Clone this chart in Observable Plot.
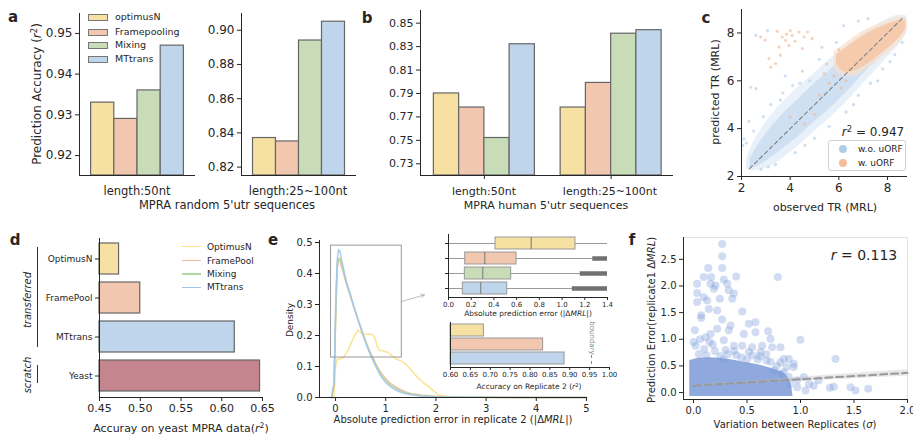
<!DOCTYPE html>
<html><head><meta charset="utf-8">
<script src="https://cdn.jsdelivr.net/npm/d3@7"></script>
<script src="https://cdn.jsdelivr.net/npm/@observablehq/plot@0.6"></script>
<style>
body{margin:0;background:#fff;}
#fig{position:relative;width:913px;height:437px;overflow:hidden;font-family:"DejaVu Sans",sans-serif;color:#262626;background:#fff;}
.t{position:absolute;white-space:nowrap;line-height:1;}
sup{font-size:0.7em;vertical-align:0.45em;line-height:0;}
.sw{position:absolute;}
</style></head><body><div id="fig"></div>
<script>
// ---------- data ----------
const models = ["optimusN","Framepooling","Mixing","MTtrans"];
const modelColors = ["#f6e0a2","#f1c8af","#c8ddb7","#bfd5eb"];
const aGroups = ["length:50nt","length:25~100nt"];
const a50 = [0.933,0.929,0.936,0.947];
const a25 = [0.837,0.835,0.894,0.905];
const aTicks50 = [0.92,0.93,0.94,0.95];
const aTicks25 = [0.82,0.84,0.86,0.88,0.90];
const bGroups = ["length:50nt","length:25~100nt"];
const b50 = [0.790,0.778,0.752,0.832];
const b25 = [0.778,0.799,0.841,0.844];
const bTicks = [0.73,0.75,0.77,0.79,0.81,0.83,0.85];

// panel c : envelopes of the dense clouds + scattered points
const cBlueFringeX = [2.2,2.4,3.0,3.5,4.0,4.5,5.0,5.5,6.0,6.5,7.0,7.5,8.0,8.5,8.8];
const cBlueFringeLo = [2.3,2.2,2.3,2.6,3.0,3.4,3.9,4.3,4.8,5.3,5.9,6.4,7.0,7.5,8.0];
const cBlueFringeHi = [2.7,3.3,4.3,4.9,5.4,5.9,6.3,6.8,7.2,7.6,8.0,8.3,8.6,8.8,8.7];
const cBlueCoreX = [2.35,2.6,3.0,3.5,4.0,4.5,5.0,5.5,6.0,6.5,7.0,7.5,8.0,8.5,8.75];
const cBlueCoreLo = [2.35,2.4,2.6,3.0,3.4,3.8,4.3,4.7,5.2,5.7,6.3,6.8,7.3,7.8,8.2];
const cBlueCoreHi = [2.75,3.2,3.8,4.4,4.9,5.4,5.9,6.3,6.8,7.2,7.6,8.0,8.3,8.6,8.6];
const cOrangeFringeX = [5.8,6.2,6.7,7.2,7.7,8.2,8.6,8.8];
const cOrangeFringeLo = [6.5,6.1,6.2,6.5,6.9,7.3,7.7,8.1];
const cOrangeFringeHi = [7.2,7.5,7.9,8.2,8.4,8.6,8.7,8.6];
const cOrangeCoreX = [5.9,6.2,6.7,7.2,7.7,8.2,8.6,8.75];
const cOrangeCoreLo = [6.7,6.3,6.4,6.7,7.1,7.5,7.9,8.2];
const cOrangeCoreHi = [7.1,7.3,7.7,8.0,8.25,8.45,8.55,8.5];
const cBluePtX = [2.59,3.07,2.38,2.59,2.1,2.05,2.2,2.5,2.9,3.2,3.7,2.3,4.1,3.8,4.5,5.2,5.3,6.2,6.8,7.2,4.2,5.0,5.6,6.3,6.8,7.3,7.8,8.3,3.4,4.6,2.8,3.1,5.9,4.8,6.6,7.6,8.1,8.6,3.6,4.4];
const cBluePtY = [7.9,8.1,5.73,5.67,3.57,3.3,3.4,3.9,4.5,5.0,5.5,4.3,5.8,6.2,6.4,6.9,7.4,8.3,8.5,8.6,3.0,3.6,4.1,4.7,5.4,5.9,6.5,7.1,2.5,3.3,2.3,2.4,7.6,6.0,5.0,6.0,6.8,7.6,5.2,5.9];
const cOrangePtX = [3.47,3.67,3.81,4.08,4.36,4.57,4.71,3.95,3.54,3.13,3.4,3.2,4.9,2.79,2.97,3.6,4.5,4.2,3.85,4.0,5.2,5.0,4.6,5.6,6.1,6.3,5.8,4.0,5.4,6.0,5.5];
const cOrangePtY = [8.07,7.83,7.69,7.9,8.04,7.83,8.04,7.48,7.41,6.93,6.72,6.57,7.76,7.83,7.7,7.07,7.35,7.65,7.95,8.1,5.4,4.6,4.2,5.9,5.7,6.0,6.2,4.5,6.3,7.3,6.7];
const cDiag = [2.33,8.6];
const cTicks = [2,4,6,8];

// panel d
const dCats = ["OptimusN","FramePool","MTtrans","Yeast"];
const dValues = [0.474,0.500,0.616,0.647];
const dColors = ["#f6e0a2","#f1c8af","#bfd5eb","#c4858f"];
const dTicks = [0.45,0.50,0.55,0.60,0.65];

// panel e : density curves
const eNames = ["OptimusN","FramePool","Mixing","MTtrans"];
const eColors = ["#fcdf86","#f5b895","#aed7a0","#a3c7ec"];
const eGridX = [-0.08,-0.03,0,0.03,0.06,0.09,0.12,0.16,0.2,0.25,0.3,0.35,0.4,0.45,0.5,0.55,0.6,0.65,0.7,0.75,0.8,0.85,0.9,0.95,1.0,1.1,1.2,1.3,1.4,1.5,1.7,2.0,2.5,3.0,4.0,5.0];
const eFramePoolY = [0,0.04,0.24,0.41,0.445,0.44,0.42,0.4,0.375,0.35,0.325,0.3,0.275,0.25,0.228,0.205,0.183,0.162,0.143,0.127,0.11,0.095,0.082,0.07,0.06,0.045,0.034,0.025,0.018,0.013,0.008,0.004,0.002,0.001,0,0];
const eMixingY = [0,0.045,0.25,0.42,0.45,0.448,0.43,0.405,0.38,0.352,0.328,0.3,0.276,0.25,0.226,0.202,0.18,0.158,0.139,0.122,0.105,0.09,0.076,0.064,0.054,0.04,0.029,0.021,0.015,0.011,0.006,0.003,0.0015,0.0007,0,0];
const eMTtransY = [0,0.05,0.28,0.44,0.478,0.47,0.445,0.415,0.385,0.355,0.33,0.3,0.275,0.25,0.225,0.2,0.177,0.155,0.135,0.118,0.1,0.085,0.07,0.058,0.048,0.034,0.024,0.017,0.012,0.009,0.005,0.002,0.001,0.0005,0,0];
const eOptimusX = [-0.1,-0.03,0,0.03,0.1,0.15,0.2,0.26,0.32,0.38,0.45,0.5,0.56,0.65,0.73,0.78,0.83,0.88,0.95,1.05,1.12,1.2,1.3,1.4,1.47,1.55,1.65,1.75,1.85,1.95,2.05,2.2,2.5,3.0,5.0];
const eOptimusY = [0,0,0.1,0.123,0.125,0.128,0.14,0.155,0.18,0.2,0.218,0.21,0.203,0.205,0.203,0.195,0.165,0.152,0.15,0.145,0.135,0.125,0.118,0.108,0.095,0.08,0.062,0.048,0.035,0.022,0.008,0.003,0.001,0,0];
const eTicksX = [0,1,2,3,4,5];
const eTicksY = [0,0.1,0.2,0.3,0.4,0.5];
const eZoomBox = {x1:-0.09, x2:1.32, y1:0.129, y2:0.49};
const eZoomArrow = {x1:1.32, y1:0.31, x2:1.77, y2:0.331};
// inset boxplot
const boxQ1 = [0.414,0.147,0.144,0.126];
const boxMed = [0.728,0.32,0.302,0.284];
const boxQ3 = [1.118,0.599,0.552,0.517];
const boxHi = [1.45,1.27,1.16,1.09];
const boxOutStart = [null,1.27,1.16,1.09];
const boxTicks = [0,0.2,0.4,0.6,0.8,1.0,1.2,1.4];
// inset bars
const replModels = ["OptimusN","FramePool","MTtrans"];
const replValues = [0.684,0.833,0.887];
const replColors = ["#f6e0a2","#f1c8af","#bfd5eb"];
const replTicks = [0.60,0.65,0.70,0.75,0.80,0.85,0.90,0.95,1.00];

// panel f
const fDenseX = [-0.035,0.05,0.15,0.25,0.35,0.45,0.55,0.65,0.75,0.82,0.87,0.9,0.92,0.93];
const fDenseTop = [0.6,0.65,0.66,0.64,0.62,0.58,0.54,0.5,0.44,0.4,0.32,0.24,0.1,-0.075];
const fPtX = [0.268,0.268,0.268,0.137,0.096,0.034,0.165,0.159,0.206,0.19,0.283,0.315,0.33,0.377,0.399,0.788,0.034,0.034,0.096,0.128,0.143,0.221,0.268,0.362,0.246,0.455,0.072,0.072,0.012,0.112,0.159,0.221,0.33,0.346,0.517,0.579,0.47,0.579,0.698,0.72,1.0,1.327,0.283,0.377,0.455,0.548,0.642,0.735,0.813,0.844,0.891,0.937,0.937,0.869,0.813,0.682,0.626,0.517,0.969,1.047,1.078,1.124,1.171,1.274,1.311,1.467,1.514,1.633,1.031,0.969,0.90,0.891,0.844,0.05,0.12,0.2,0.25,0.32,0.4,0.45,0.55,0.6,0.68,0.02,0.1,0.18,0.3,0.28,0.5,0.72,0.78,0.75,0.82,0.0,0.06,0.15,0.38,0.62];
const fPtY = [2.79,2.56,2.34,2.34,2.17,2.04,2.17,2.04,2.01,1.95,2.12,2.04,1.92,1.86,2.18,2.17,1.87,1.70,1.79,1.73,1.57,1.54,1.37,1.76,1.76,1.52,1.45,1.40,1.17,1.04,1.10,1.20,1.17,1.26,1.29,1.32,1.10,1.13,1.15,1.01,0.99,0.63,0.98,0.88,0.88,0.85,0.88,0.85,0.85,0.63,0.63,0.54,0.48,0.48,0.57,0.6,0.76,0.76,0.23,0.04,0.16,0.13,0.23,0.09,0.11,0.10,0.04,0.07,0.29,0.1,0.16,0.29,0.38,0.72,0.7,0.78,0.68,0.72,0.7,0.66,0.7,0.62,0.72,0.88,0.82,0.9,0.8,0.62,0.62,0.58,0.5,0.42,0.35,0.95,1.0,0.95,0.78,0.68];
const fRegX = [0,2.0];
const fRegY = [0.13,0.37];
const fRegLo = [0.11,0.31];
const fRegHi = [0.15,0.43];
const fTicksX = [0,0.5,1.0,1.5,2.0];
const fTicksY = [0,0.5,1.0,1.5,2.0,2.5];

// ---------- helpers ----------
const fig = document.getElementById("fig");
const INK = "#262626";
function sty(fs){return {background:"transparent",overflow:"visible",maxWidth:"none",fontFamily:"DejaVu Sans, sans-serif",fontSize:fs+"px",color:INK};}
function place(node,left,top){node.style.position="absolute";node.style.left=left+"px";node.style.top=top+"px";fig.appendChild(node);}
function label(html,x,y,fs,o={}){const d=document.createElement("div");d.className="t";d.innerHTML=html;d.style.left=x+"px";d.style.top=y+"px";d.style.fontSize=fs+"px";
  d.style.transform=(o.left?"translate(0,-50%)":"translate(-50%,-50%)")+(o.rot?` rotate(${o.rot}deg)`:"");if(o.italic)d.style.fontStyle="italic";if(o.bold)d.style.fontWeight="bold";if(o.color)d.style.color=o.color;fig.appendChild(d);}
function box(left,top,w,h,css){const d=document.createElement("div");d.className="sw";d.style.left=left+"px";d.style.top=top+"px";d.style.width=w+"px";d.style.height=h+"px";d.style.cssText+=css;fig.appendChild(d);}
const zip = (xs,ys)=>xs.map((x,i)=>({x,y:ys[i]}));
const band = (xs,lo,hi)=>xs.map((x,i)=>({x,lo:lo[i],hi:hi[i]}));

// ---------- panel a ----------
function panelA(values,domain,ticks,width,ml,mr){
  const rows = models.map((m,i)=>({i,value:values[i],color:modelColors[i]}));
  return Plot.plot({width,height:215,marginLeft:ml,marginRight:mr,marginTop:13,marginBottom:40,style:sty(12),
    x:{domain:[0,5],axis:null},y:{domain},color:{type:"identity"},
    marks:[
      Plot.rect(rows,{x1:d=>d.i+0.5,x2:d=>d.i+1.5,y1:domain[0],y2:"value",fill:"color",stroke:"#666",strokeWidth:1.2}),
      Plot.axisY({ticks,tickFormat:".2f",tickSize:4,tickPadding:3,label:null}),
      Plot.ruleX([0],{stroke:INK}),Plot.ruleY([domain[0]],{stroke:INK})
    ]});
}
place(panelA(a50,[0.9151,0.9549],aTicks50,170,49,5),30,0);
place(panelA(a25,[0.8151,0.9098],aTicks25,160,41,4),200,0);

// ---------- panel b ----------
{
  const off = [0.53,5.55];
  const rows = [];
  [b50,b25].forEach((vals,g)=>vals.forEach((v,i)=>rows.push({x1:off[g]+i,x2:off[g]+i+1,value:v,color:modelColors[i]})));
  const dom=[0.72,0.8608];
  place(Plot.plot({width:315,height:215,marginLeft:55,marginRight:7,marginTop:10,marginBottom:40,style:sty(11),
    x:{domain:[0,10.02]},y:{domain:dom},color:{type:"identity"},
    marks:[
      Plot.rect(rows,{x1:"x1",x2:"x2",y1:dom[0],y2:"value",fill:"color",stroke:"#666",strokeWidth:1.2}),
      Plot.axisY({ticks:bTicks,tickFormat:".2f",tickSize:4,tickPadding:3,label:null}),
      Plot.axisX({ticks:off.map(o=>o+2),tickFormat:()=>"",tickSize:4,label:null}),
      Plot.ruleX([0],{stroke:INK}),Plot.ruleY([dom[0]],{stroke:INK})
    ]}),365,0);
}

// ---------- panel c ----------
place(Plot.plot({width:223,height:215,marginLeft:51,marginRight:6,marginTop:9,marginBottom:39,style:sty(12),
  x:{domain:[2,8.82]},y:{domain:[2,8.98]},
  marks:[
    Plot.areaY(band(cBlueFringeX,cBlueFringeLo,cBlueFringeHi),{x:"x",y1:"lo",y2:"hi",fill:"#e8f0f9",curve:"basis"}),
    Plot.areaY(band(cBlueCoreX,cBlueCoreLo,cBlueCoreHi),{x:"x",y1:"lo",y2:"hi",fill:"#cfe0f3",curve:"basis"}),
    Plot.dot(zip(cBluePtX,cBluePtY),{x:"x",y:"y",r:1.6,fill:"#bcd4ed",fillOpacity:0.75}),
    Plot.areaY(band(cOrangeFringeX,cOrangeFringeLo,cOrangeFringeHi),{x:"x",y1:"lo",y2:"hi",fill:"#f9dfcc",fillOpacity:0.7,curve:"basis"}),
    Plot.areaY(band(cOrangeCoreX,cOrangeCoreLo,cOrangeCoreHi),{x:"x",y1:"lo",y2:"hi",fill:"#f6cbad",curve:"basis"}),
    Plot.dot(zip(cOrangePtX,cOrangePtY),{x:"x",y:"y",r:1.6,fill:"#f2b68f",fillOpacity:0.6}),
    Plot.line(zip(cDiag,cDiag),{x:"x",y:"y",stroke:"#888",strokeWidth:1.2,strokeDasharray:"4,3"}),
    Plot.axisX({ticks:cTicks,tickFormat:"d",tickSize:4,tickPadding:3,label:null}),
    Plot.axisY({ticks:cTicks,tickFormat:"d",tickSize:4,tickPadding:3,label:null}),
    Plot.ruleX([2],{stroke:INK}),Plot.ruleY([2],{stroke:INK})
  ]}),690,0);

// ---------- panel d ----------
place(Plot.plot({width:275,height:207,marginLeft:99,marginRight:13,marginTop:8,marginBottom:40,style:sty(11),
  x:{domain:[0.45,0.65]},y:{domain:dCats,paddingInner:0.2,paddingOuter:0.1},color:{type:"identity"},
  marks:[
    Plot.barX(dCats.map((c,i)=>({c,v:dValues[i],color:dColors[i]})),{y:"c",x1:0.45,x2:"v",fill:"color",stroke:"#666",strokeWidth:1.2}),
    Plot.axisY({tickSize:4,tickPadding:3,fontSize:9,label:null}),
    Plot.axisX({ticks:dTicks,tickFormat:".2f",tickSize:4,tickPadding:3,label:null}),
    Plot.ruleX([0.45],{stroke:INK}),
    Plot.frame({anchor:"bottom",stroke:INK})
  ]}),0,230);

// ---------- panel e ----------
{
  const curves = [
    eOptimusX.map((x,i)=>({x,y:eOptimusY[i]})),
    eGridX.map((x,i)=>({x,y:eFramePoolY[i]})),
    eGridX.map((x,i)=>({x,y:eMixingY[i]})),
    eGridX.map((x,i)=>({x,y:eMTtransY[i]}))
  ];
  place(Plot.plot({width:320,height:207,marginLeft:44,marginRight:8,marginTop:10,marginBottom:40,style:sty(10),
    x:{domain:[-0.32,5.02]},y:{domain:[0,0.5065]},
    marks:[
      ...curves.map((c,k)=>Plot.line(c,{x:"x",y:"y",stroke:eColors[k],strokeWidth:1.5,strokeOpacity:0.9})),
      Plot.rect([eZoomBox],{x1:"x1",x2:"x2",y1:"y1",y2:"y2",fill:"none",stroke:"#999",strokeWidth:1}),
      Plot.arrow([eZoomArrow],{x1:"x1",y1:"y1",x2:"x2",y2:"y2",stroke:"#aaa",strokeWidth:0.8,headLength:7}),
      Plot.axisY({ticks:eTicksY,tickFormat:".1f",tickSize:4,tickPadding:3,label:null}),
      Plot.axisX({ticks:eTicksX,tickFormat:"d",tickSize:4,tickPadding:3,label:null}),
      Plot.ruleX([-0.32],{stroke:INK}),Plot.ruleY([0],{stroke:INK})
    ]}),275,230);
  // inset boxplot
  const rows = eNames.map((m,i)=>({m,q1:boxQ1[i],med:boxMed[i],q3:boxQ3[i],hi:boxHi[i],out:boxOutStart[i],color:modelColors[i]}));
  place(Plot.plot({width:185,height:95,marginLeft:18,marginRight:8,marginTop:6,marginBottom:26,style:sty(7),
    x:{domain:[0,1.4]},y:{domain:eNames,paddingInner:0.23,paddingOuter:0.14},color:{type:"identity"},
    marks:[
      Plot.ruleY(rows,{y:"m",x1:0,x2:"hi",stroke:"#999",clip:true}),
      Plot.ruleY(rows.filter(d=>d.out!=null),{y:"m",x1:"out",x2:1.45,stroke:"#707070",strokeWidth:4.5,clip:true}),
      Plot.barX(rows,{y:"m",x1:"q1",x2:"q3",fill:"color",stroke:"#999"}),
      Plot.tickX(rows,{y:"m",x:"med",stroke:"#777"}),
      Plot.axisX({ticks:boxTicks,tickFormat:".1f",tickSize:3,tickPadding:2,label:null}),
      Plot.axisY({tickSize:3,tickFormat:()=>"",label:null}),
      Plot.frame({anchor:"left",stroke:INK}),Plot.frame({anchor:"bottom",stroke:INK})
    ]}),430,228);
  // inset bars
  const rr = replModels.map((m,i)=>({m,v:replValues[i],color:replColors[i]}));
  place(Plot.plot({width:185,height:75,marginLeft:20,marginRight:6,marginTop:4,marginBottom:26,style:sty(7),
    x:{domain:[0.6,1.0]},y:{domain:replModels,paddingInner:0.14,paddingOuter:0.14,axis:null},color:{type:"identity"},
    marks:[
      Plot.barX(rr,{y:"m",x1:0.6,x2:"v",fill:"color",stroke:"#999"}),
      Plot.axisX({ticks:replTicks,tickFormat:".2f",tickSize:3,tickPadding:2,label:null}),
      Plot.frame({anchor:"left",stroke:INK}),Plot.frame({anchor:"bottom",stroke:INK})
    ]}),430,318);
}

// ---------- panel f ----------
place(Plot.plot({width:293,height:207,marginLeft:63,marginRight:6,marginTop:7,marginBottom:38,style:sty(10),
  x:{domain:[-0.0935,2.0]},y:{domain:[-0.13,2.91]},
  marks:[
    Plot.frame({stroke:"#e2e2e2"}),
    Plot.areaY(fDenseX.map((x,i)=>({x,top:fDenseTop[i]})),{x:"x",y1:-0.075,y2:"top",fill:"#8fa8dd",curve:"basis"}),
    Plot.dot(zip(fPtX,fPtY),{x:"x",y:"y",r:4,fill:"#7c9bd9",fillOpacity:0.35}),
    Plot.areaY(fRegX.map((x,i)=>({x,lo:fRegLo[i],hi:fRegHi[i]})),{x:"x",y1:"lo",y2:"hi",fill:"#bbbbbb",fillOpacity:0.35}),
    Plot.line(zip(fRegX,fRegY),{x:"x",y:"y",stroke:"#999",strokeWidth:2,strokeDasharray:"7,4"}),
    Plot.axisX({ticks:fTicksX,tickFormat:".1f",tickSize:4,tickPadding:3,label:null}),
    Plot.axisY({ticks:fTicksY,tickFormat:".1f",tickSize:4,tickPadding:3,label:null}),
    Plot.ruleX([-0.0935],{stroke:INK}),Plot.ruleY([-0.13],{stroke:INK})
  ]}),620,230);

// ---------- html text & legends ----------
label("a",13,17,15,{bold:true}); label("b",367,18,15,{bold:true}); label("c",706,18,15,{bold:true});
label("d",15,240,15,{bold:true}); label("e",273,240,15,{bold:true}); label("f",632,240,15,{bold:true});
label("Prediction Accuracy (<i>r</i><sup>2</sup>)",37,94,12,{rot:-90});
label(aGroups[0],137,192,11.5); label(aGroups[1],298,192,11.5);
label("MPRA random 5'utr sequences",227,206,11.5);
label(bGroups[0],484,191,11); label(bGroups[1],610,191,11);
label("MPRA human 5'utr sequences",546,205,11);
// legend a
models.forEach((m,i)=>{const y=[17.3,32,45.3,59.3][i];
  box(88,y-3.5,20,7,`background:${modelColors[i]};border:1px solid #777;box-sizing:border-box;`);
  label(m,115,y,9.5,{left:true}); });
// c
label("predicted TR (MRL)",715,92,11,{rot:-90});
label("observed TR (MRL)",825,207,11);
label("<i>r</i><sup>2</sup> = 0.947",873,132,12);
box(828,140,78,31,"border:1px solid #d0d0d0;border-radius:3px;background:rgba(255,255,255,0.85);box-sizing:border-box;");
box(839,145,8,8,"background:#b3cde9;border-radius:50%;");
box(839,159,8,8,"background:#f4bc98;border-radius:50%;");
label("w.o. uORF",858,149,9,{left:true}); label("w. uORF",858,163,9,{left:true});
// d
label("transferred",28,300,10,{rot:-90,italic:true});
label("scratch",28,375,10,{rot:-90,italic:true});
box(37,247,1.3,100,"background:#333;");
box(37,365,1.3,18,"background:#333;");
label("Accuray on yeast MPRA data(<i>r</i><sup>2</sup>)",181,428,11);
// e legend
eNames.forEach((n,i)=>{const y=[246.7,260.7,274,287.3][i];
  box(182,y-0.75,19,1.5,`background:${eColors[i]};`);
  label(n,207,y,9,{left:true});});
label("Density",290,320,9,{rot:-90});
label("Absolute prediction error in replicate 2 (|Δ<i>MRL</i>|)",453,420,10);
label("Absolute prediction error (|Δ<i>MRL</i>|)",528,314,7.5);
label("Accuracy on Replicate 2 (<i>r</i><sup>2</sup>)",529,387,7.5);
label("boundary",591,338,7,{rot:90,color:"#888"});
box(591,355,1,9,"border-left:1px dashed #888;");
// f
label("Prediction Error(replicate1 Δ<i>MRL</i>)",652,320,10,{rot:-90});
label("Variation between Replicates (<i>σ</i>)",795,425,10);
label("<i>r</i> = 0.113",864,255,14);
</script></body></html>
